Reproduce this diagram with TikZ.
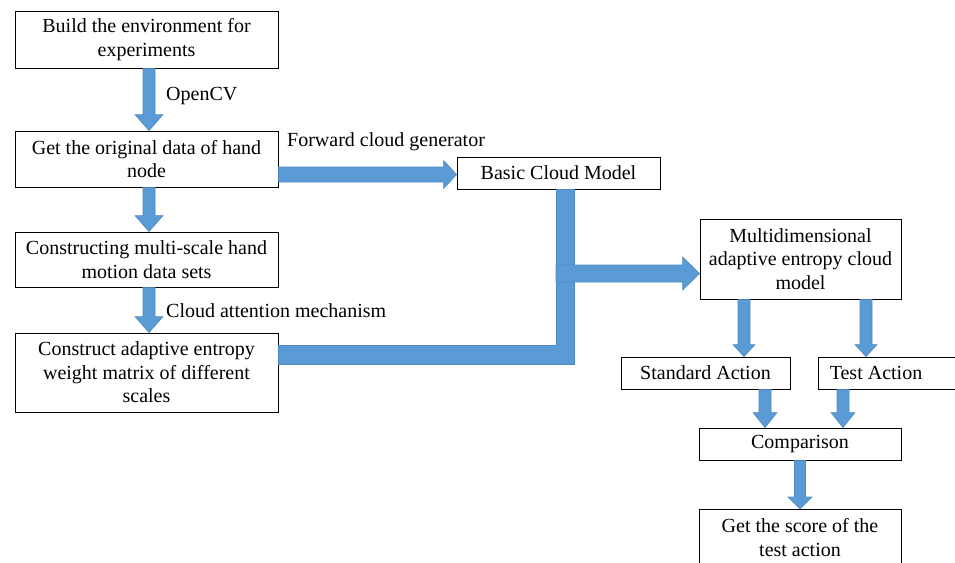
\documentclass[tikz,border=0pt]{standalone}
\usepackage{fontspec}
\setmainfont{Liberation Serif}
\usetikzlibrary{calc}
\definecolor{arrowblue}{HTML}{5B9BD5}
\definecolor{arrowedge}{HTML}{4F8AC4}
\tikzset{
  box/.style={draw=black, line width=0.8pt, fill=white, align=center, inner sep=0pt,
    font=\fontsize{20}{23.5}\selectfont},
  lbl/.style={anchor=west, inner sep=0pt, font=\fontsize{20}{23.5}\selectfont},
  blk/.style={fill=arrowblue, draw=arrowedge, line width=0.6pt, line join=miter},
}
% vertical block arrow: x, from, to, shaft half, head half, head length
\newcommand{\varrow}[6]{%
  \filldraw[blk] let \p1=(#2), \p2=(#3) in
   (#1pt-#4pt,\y1) -- (#1pt+#4pt,\y1) -- (#1pt+#4pt,\y2+#6pt) -- (#1pt+#5pt,\y2+#6pt)
   -- (#1pt,\y2) -- (#1pt-#5pt,\y2+#6pt) -- (#1pt-#4pt,\y2+#6pt) -- cycle;}
% horizontal block arrow: y, from, to, shaft half, head half, head length
\newcommand{\harrow}[6]{%
  \filldraw[blk] let \p1=(#2), \p2=(#3) in
   (\x1,#1pt+#4pt) -- (\x2-#6pt,#1pt+#4pt) -- (\x2-#6pt,#1pt+#5pt) -- (\x2,#1pt)
   -- (\x2-#6pt,#1pt-#5pt) -- (\x2-#6pt,#1pt-#4pt) -- (\x1,#1pt-#4pt) -- cycle;}
\begin{document}
\begin{tikzpicture}[x=1pt,y=1pt]
\useasboundingbox (0,0) rectangle (955,-562);
\clip (0,0) rectangle (955,-562);

% left column
\node[box, minimum width=263pt, minimum height=57pt] (b1) at (146.5,-39.5)
  {Build the environment for\\experiments};
\node[box, minimum width=263pt, minimum height=56pt] (b2) at (146.5,-159)
  {Get the original data of hand\\node};
\node[box, minimum width=263pt, minimum height=55pt] (b3) at (146.5,-259.5)
  {Constructing multi-scale hand\\motion data sets};
\node[box, minimum width=263pt, minimum height=79pt] (b4) at (146.5,-372.5)
  {Construct adaptive entropy\\weight matrix of different\\scales};

% right part
\node[box, minimum width=203pt, minimum height=32pt] (bc) at (558.5,-173)
  {Basic Cloud Model};
\node[box, minimum width=201pt, minimum height=80pt] (m) at (800.5,-259)
  {Multidimensional\\adaptive entropy cloud\\model};
\node[box, minimum width=169pt, minimum height=32pt] (sa) at (705.5,-373)
  {Standard Action};
\node[box, minimum width=150pt, minimum height=32pt, anchor=west] (ta) at (818,-373) {};
\node[lbl, anchor=center] (tat) at (876,-373) {Test Action};
\node[box, minimum width=202pt, minimum height=32pt] (cmp) at (800,-444)
  {Comparison};
\node[box, minimum width=202pt, minimum height=56pt, anchor=north] (sc) at (800,-509)
  {Get the score of the\\test action};

% labels
\node[lbl] (l1) at (166,-96) {OpenCV};
\node[lbl] (l2) at (287,-142) {Forward cloud generator};
\node[lbl] (l3) at (166,-311) {Cloud attention mechanism};

% left column arrows
\varrow{149}{b1.south}{b2.north}{6}{14}{16}
\varrow{149}{b2.south}{b3.north}{6}{14}{16}
\varrow{149}{b3.south}{b4.north}{6}{14}{16}

% forward cloud generator arrow
\harrow{-174.5}{b2.east}{bc.west}{7.5}{14}{13}

% L-shaped merge bar
\filldraw[blk] let \p1=(b4.east), \p2=(bc.south) in
  (\x1,-345) -- (556,-345) -- (556,\y2) -- (574,\y2) -- (574,-364) -- (\x1,-364) -- cycle;
\coordinate (j) at (556,-273.5);
\harrow{-273.5}{j}{m.west}{8.5}{16.5}{17}

% lower right arrows
\varrow{744}{m.south}{sa.north}{6}{11}{12}
\varrow{866}{m.south}{ta.north}{6}{11}{12}
\varrow{765}{sa.south}{cmp.north}{6}{12}{15}
\varrow{843}{ta.south}{cmp.north}{6}{12}{15}
\varrow{800}{cmp.south}{sc.north}{5.5}{12}{12}
\end{tikzpicture}
\end{document}
